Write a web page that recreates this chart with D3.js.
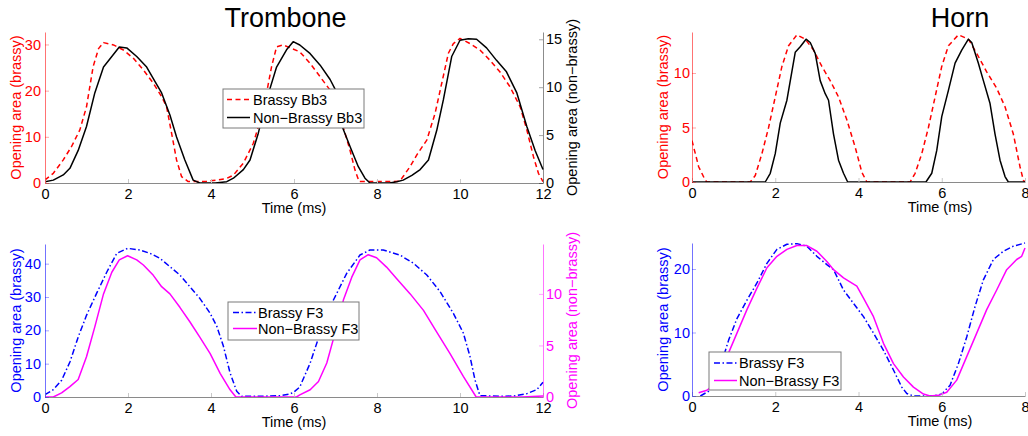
<!DOCTYPE html>
<html><head><meta charset="utf-8">
<script src="https://cdn.jsdelivr.net/npm/d3@7"></script>
<style>
body{margin:0;background:#fff}
svg{display:block}
text{font-family:"Liberation Sans",Arial,Helvetica,sans-serif}
</style>
</head><body>
<svg id="c" width="1028" height="436"></svg>
<script>
// ---------- DATA ----------
// Trombone, Bb3
const tbBrassyT = [0,0.2,0.44,0.64,0.84,1.0,1.16,1.29,1.41,1.65,1.89,2.13,2.37,2.61,2.81,2.93,3.05,3.17,3.29,3.45,3.7,3.9,4.14,4.38,4.54,4.78,5.02,5.26,5.46,5.58,5.74,6.14,6.39,6.63,6.87,7.19,7.35,7.47,7.57,8.0,8.3,8.55,8.63,8.8,8.96,9.2,9.4,9.56,9.72,9.84,10.0,10.24,10.48,10.72,10.96,11.2,11.45,11.61,11.77,11.89,12.0];
const tbBrassyV = [0.65,2.1,5.0,7.9,11.5,16.5,25.2,29.1,30.4,29.9,28.8,27.0,24.5,21.6,18.7,16.5,10.8,5.0,1.4,0.3,0.3,0.4,0.6,1.0,1.7,4.3,8.6,15.8,25.2,29.5,29.9,28.4,25.9,23.0,20.1,12.0,7.1,2.8,0.3,0.3,0.3,0.4,1.4,3.6,6.1,9.3,15.1,21.6,28.1,30.2,31.3,30.2,28.8,26.6,24.1,20.9,16.5,11.5,5.7,2.1,0.3];
const tbNonT = [0,0.2,0.44,0.6,0.8,1.0,1.2,1.41,1.61,1.79,1.97,2.21,2.45,2.61,2.81,3.01,3.17,3.37,3.57,3.73,4.1,4.38,4.54,4.78,4.94,5.14,5.34,5.58,5.82,5.98,6.14,6.39,6.63,6.87,6.99,7.17,7.35,7.55,7.71,7.83,8.3,8.48,8.63,8.84,9.04,9.24,9.44,9.6,9.8,10.0,10.2,10.4,10.64,10.88,11.12,11.37,11.61,11.81,12.0];
const tbNonV = [0.14,0.3,0.84,1.53,3.4,5.9,9.4,12.1,13.2,14.2,14.1,13.2,12.1,10.9,9.4,7.1,4.8,2.4,0.3,0,0,0.14,0.5,1.4,2.4,5.2,8.7,12.1,13.9,14.75,14.4,13.5,12.3,10.8,9.8,5.8,3.8,1.7,0.5,0,0,0.14,0.3,0.8,1.4,2.4,5.5,8.7,13.2,14.9,15.05,15.0,14.1,12.8,11.6,9.4,5.9,3.4,1.4];

// Trombone, F3
const tfBrassyT = [0,0.2,0.4,0.6,0.8,1.0,1.24,1.49,1.73,1.99,2.29,2.53,2.77,3.01,3.25,3.49,3.73,3.98,4.14,4.3,4.46,4.62,4.74,5.2,5.66,5.9,6.0,6.14,6.39,6.63,6.95,7.27,7.59,7.83,8.15,8.55,8.88,9.2,9.52,9.84,10.08,10.24,10.36,10.48,11.0,11.29,11.61,11.85,12.0];
const tfBrassyV = [0.7,2.2,5.0,10.5,18.0,24.5,31.0,37.5,43.1,44.6,44.1,43.1,41.6,39.1,36.6,33.1,29.6,25.1,21.2,15.2,7.2,1.7,0.2,0.2,0.4,0.9,1.5,3.0,10.2,19.2,29.1,37.1,42.6,44.1,44.1,42.6,40.1,36.6,31.6,25.1,19.2,12.2,5.2,0.4,0.2,0.3,1.0,2.2,4.4];
const tfNonT = [0,0.2,0.4,0.6,0.8,1.0,1.2,1.41,1.61,1.79,1.99,2.21,2.37,2.61,2.81,3.01,3.25,3.49,3.73,3.98,4.22,4.46,4.6,5.5,6.06,6.14,6.39,6.59,6.79,7.03,7.19,7.39,7.59,7.79,7.99,8.23,8.47,8.8,9.12,9.44,9.76,10.08,10.39,11.5,12.0];
const tfNonV = [0,0,0.4,1.0,1.7,3.9,6.8,10.0,12.1,13.3,13.7,13.3,12.8,11.8,10.7,10.0,8.7,7.3,5.8,4.2,2.3,0.7,0,0,0,0.2,0.7,1.5,3.3,6.8,9.4,11.6,13.3,13.8,13.5,12.6,11.5,10.0,8.4,6.3,4.2,2.0,0,0,0.1];

// Horn, Bb3
const hbBrassyT = [0,0.16,0.32,0.36,1.4,1.52,1.68,1.84,2.0,2.16,2.32,2.52,2.72,2.92,3.12,3.32,3.52,3.72,3.92,4.08,4.2,5.24,5.36,5.52,5.68,5.84,6.0,6.16,6.4,6.64,6.84,7.08,7.32,7.52,7.72,7.88,7.96,8.0];
const hbBrassyV = [3.8,1.4,0.15,0,0,0.6,2.6,5.0,7.8,10.6,12.5,13.5,13.1,12.1,10.6,9.3,7.8,5.7,3.2,0.9,0,0,0.8,2.6,5.0,7.8,10.6,12.5,13.5,13.1,11.8,10.1,8.6,6.9,4.4,1.4,0.15,0];
const hbNonT = [0,1.76,1.88,2.0,2.12,2.28,2.48,2.6,2.74,2.84,2.96,3.08,3.2,3.28,3.4,3.52,3.64,3.74,5.62,5.76,5.88,6.0,6.16,6.32,6.48,6.64,6.72,6.88,7.0,7.16,7.28,7.4,7.52,7.6,8.0];
const hbNonV = [0,0,0.8,2.6,5.4,7.5,11.9,12.4,13.1,12.8,11.8,9.3,8.1,7.5,4.4,2.0,0.8,0,0,0.8,2.9,6.0,8.4,10.9,12.1,13.1,12.8,10.9,9.3,7.2,4.4,2.0,0.5,0,0];

// Horn, F3
const hfBrassyT = [0.2,0.44,0.68,0.88,1.08,1.32,1.56,1.8,2.04,2.28,2.52,2.76,3.0,3.24,3.4,3.64,3.88,4.12,4.36,4.6,4.84,5.04,5.16,5.32,5.8,6.0,6.2,6.4,6.6,6.8,7.0,7.24,7.48,7.72,8.0];
const hfBrassyV = [0,0.9,4.6,8.8,12.2,15.1,17.8,20.9,23.1,23.9,24.0,23.6,22.0,20.7,19.9,16.7,14.6,12.5,9.9,7.2,4.1,1.4,0.4,0,0,0.3,1.7,5.1,9.3,14.1,18.3,21.5,22.8,23.6,24.1];
const hfNonT = [0.16,0.36,0.6,0.84,1.08,1.32,1.56,1.8,2.04,2.28,2.52,2.76,3.0,3.24,3.4,3.64,3.96,4.12,4.36,4.6,4.84,5.08,5.32,5.56,5.72,5.92,6.12,6.36,6.6,6.84,7.08,7.32,7.56,7.8,7.92,8.0];
const hfNonV = [0.5,0.9,2.2,6.2,9.9,13.6,17.0,20.2,22.0,23.1,23.7,23.7,22.8,21.2,19.9,18.6,17.3,15.4,12.5,8.3,5.1,3.0,1.4,0.3,0,0.1,0.6,2.5,6.2,9.9,13.6,16.7,19.9,21.5,22.0,23.3];

// ticks & labels
const tbXTicks = [0,2,4,6,8,10,12];
const hnXTicks = [0,2,4,6,8];
const tbTopLeftTicks = [0,10,20,30];
const tbTopRightTicks = [0,5,10,15];
const tbBotLeftTicks = [0,10,20,30,40];
const tbBotRightTicks = [0,5,10];
const hnTopTicks = [0,5,10];
const hnBotTicks = [0,10,20];
const titles = ["Trombone","Horn"];
const xLabel = "Time (ms)";
const yLabelBrassy = "Opening area (brassy)";
const yLabelNon = "Opening area (non\u2212brassy)";
const legendTop = ["Brassy Bb3","Non\u2212Brassy Bb3"];
const legendBot = ["Brassy F3","Non\u2212Brassy F3"];

// ---------- DRAW ----------
const svg = d3.select("#c");
const FS = 14.5;
const AXIS_GRAY = "#8a8a8a";

const zip = (T,V) => T.map((t,i)=>[t,V[i]]);

let clipId = 0;
function panel(cfg){
  const g = svg.append("g");
  const x = d3.scaleLinear().domain(cfg.xDomain).range([cfg.x0,cfg.x1]);
  const yL = d3.scaleLinear().domain(cfg.yLDomain).range([cfg.yb,cfg.yt]);
  const yR = cfg.yRDomain ? d3.scaleLinear().domain(cfg.yRDomain).range([cfg.yb,cfg.yt]) : null;

  const id = "clip"+(clipId++);
  svg.append("clipPath").attr("id",id).append("rect")
    .attr("x",cfg.x0).attr("y",cfg.yt-2).attr("width",cfg.x1-cfg.x0+1).attr("height",cfg.yb-cfg.yt+3);

  // series
  const plot = g.append("g").attr("clip-path",`url(#${id})`);
  cfg.series.forEach(s=>{
    const ys = s.axis==="R" ? yR : yL;
    const line = d3.line().x(d=>x(d[0])).y(d=>ys(d[1]));
    plot.append("path").datum(zip(s.t,s.v))
      .attr("d",line).attr("fill","none")
      .attr("stroke",s.color).attr("stroke-width",1.5)
      .attr("stroke-dasharray",s.dash||null)
      .attr("stroke-linejoin","round");
  });

  // x axis
  const xa = g.append("g").attr("transform",`translate(0,${cfg.yb})`)
    .call(d3.axisBottom(x).tickValues(cfg.xTicks).tickFormat(d3.format("d"))
      .tickSizeInner(-4).tickSizeOuter(0).tickPadding(6));
  xa.select(".domain").attr("stroke",AXIS_GRAY);
  xa.selectAll(".tick line").attr("stroke","#c8c8c8");
  xa.selectAll("text").attr("font-size",FS).attr("fill","#000")
    .attr("font-family",'"Liberation Sans",Arial,sans-serif');

  // left y axis
  const ya = g.append("g").attr("transform",`translate(${cfg.x0},0)`)
    .call(d3.axisLeft(yL).tickValues(cfg.yLTicks).tickFormat(d3.format("d"))
      .tickSizeInner(-4).tickSizeOuter(0).tickPadding(cfg.padL||4));
  ya.select(".domain").attr("stroke",cfg.cL).attr("stroke-opacity",0.55);
  ya.selectAll(".tick line").attr("stroke",cfg.cL).attr("stroke-opacity",0.35);
  ya.selectAll("text").attr("font-size",FS).attr("fill",cfg.cL)
    .attr("font-family",'"Liberation Sans",Arial,sans-serif');

  if(yR){
    const yb = g.append("g").attr("transform",`translate(${cfg.x1},0)`)
      .call(d3.axisRight(yR).tickValues(cfg.yRTicks).tickFormat(d3.format("d"))
        .tickSizeInner(-4).tickSizeOuter(0).tickPadding(3));
    yb.select(".domain").attr("stroke",cfg.cR).attr("stroke-opacity",cfg.cR==="#000"?0.45:0.55);
    yb.selectAll(".tick line").attr("stroke",cfg.cR).attr("stroke-opacity",0.35);
    yb.selectAll("text").attr("font-size",FS).attr("fill",cfg.cR)
      .attr("font-family",'"Liberation Sans",Arial,sans-serif');
    g.append("text").attr("transform",`translate(${cfg.yRLabelX},${(cfg.yt+cfg.yb)/2}) rotate(-90)`)
      .attr("text-anchor","middle").attr("dy","0.35em").attr("font-size",FS)
      .attr("fill",cfg.cR).text(yLabelNon);
  }

  // axis labels
  g.append("text").attr("x",cfg.xLabelX).attr("y",cfg.yb+30)
    .attr("text-anchor","middle").attr("font-size",FS).attr("fill","#000").text(xLabel);
  g.append("text").attr("transform",`translate(${cfg.yLLabelX},${(cfg.yt+cfg.yb)/2}) rotate(-90)`)
    .attr("text-anchor","middle").attr("dy","0.35em").attr("font-size",FS)
    .attr("fill",cfg.cL).text(yLabelBrassy);

  // legend
  if(cfg.legend){
    const L = cfg.legend;
    const lg = g.append("g");
    lg.append("rect").attr("x",L.x).attr("y",L.y).attr("width",L.w).attr("height",L.h)
      .attr("fill","#fff").attr("stroke","#7a7a7a").attr("stroke-width",1);
    L.items.forEach((it,i)=>{
      const yy = L.y + L.rowY[i];
      lg.append("line").attr("x1",L.x+L.lx0).attr("x2",L.x+L.lx1).attr("y1",yy).attr("y2",yy)
        .attr("stroke",it.color).attr("stroke-width",1.5).attr("stroke-dasharray",it.dash||null);
      lg.append("text").attr("x",L.x+L.tx).attr("y",yy).attr("dy","0.36em")
        .attr("font-size",FS).attr("fill","#000").text(it.label);
    });
  }
}

const RED="#ff0000", BLUE="#0000ff", MAG="#ff00ff", BLACK="#000";
const DASH="5,3.5", DASHDOT="6,2.5,1.5,2.5";

// Trombone top
panel({
  x0:45,x1:543,yt:32,yb:183,xDomain:[0,12],xTicks:tbXTicks,
  yLDomain:[0,32.7],yLTicks:tbTopLeftTicks,cL:RED,
  yRDomain:[0,15.76],yRTicks:tbTopRightTicks,cR:BLACK,
  yLLabelX:16,yRLabelX:572,xLabelX:294,
  series:[
    {t:tbBrassyT,v:tbBrassyV,color:RED,dash:DASH,axis:"L"},
    {t:tbNonT,v:tbNonV,color:BLACK,axis:"R"}
  ],
  legend:{x:223,y:89,w:141,h:39,lx0:4,lx1:27,tx:30,rowY:[10.5,28.5],
    items:[{label:legendTop[0],color:RED,dash:DASH},{label:legendTop[1],color:BLACK}]}
});

// Trombone bottom
panel({
  x0:45,x1:543,yt:244,yb:397,xDomain:[0,12],xTicks:tbXTicks,
  yLDomain:[0,45.9],yLTicks:tbBotLeftTicks,cL:BLUE,
  yRDomain:[0,14.84],yRTicks:tbBotRightTicks,cR:MAG,
  yLLabelX:16,yRLabelX:572,xLabelX:294,
  series:[
    {t:tfBrassyT,v:tfBrassyV,color:BLUE,dash:DASHDOT,axis:"L"},
    {t:tfNonT,v:tfNonV,color:MAG,axis:"R"}
  ],
  legend:{x:228,y:302,w:131,h:38,lx0:5,lx1:29,tx:30,rowY:[10.5,26.5],
    items:[{label:legendBot[0],color:BLUE,dash:DASHDOT},{label:legendBot[1],color:MAG}]}
});

// Horn top
panel({
  x0:692,x1:1025,yt:32,yb:182,xDomain:[0,8],xTicks:hnXTicks,
  yLDomain:[0,13.76],yLTicks:hnTopTicks,cL:RED,padL:2,
  yLLabelX:663,xLabelX:940,
  series:[
    {t:hbBrassyT,v:hbBrassyV,color:RED,dash:DASH,axis:"L"},
    {t:hbNonT,v:hbNonV,color:BLACK,axis:"L"}
  ]
});

// Horn bottom
panel({
  x0:692,x1:1025,yt:243,yb:396,xDomain:[0,8],xTicks:hnXTicks,
  yLDomain:[0,24.1],yLTicks:hnBotTicks,cL:BLUE,padL:2,
  yLLabelX:663,xLabelX:940,
  series:[
    {t:hfBrassyT,v:hfBrassyV,color:BLUE,dash:DASHDOT,axis:"L"},
    {t:hfNonT,v:hfNonV,color:MAG,axis:"L"}
  ],
  legend:{x:709,y:352,w:132,h:38,lx0:5,lx1:28,tx:30,rowY:[11,28.5],
    items:[{label:legendBot[0],color:BLUE,dash:DASHDOT},{label:legendBot[1],color:MAG}]}
});

// titles
svg.append("text").attr("x",285.5).attr("y",27).attr("text-anchor","middle")
  .attr("font-size",27).attr("fill","#000").text(titles[0]);
svg.append("text").attr("x",960).attr("y",27).attr("text-anchor","middle")
  .attr("font-size",27).attr("fill","#000").text(titles[1]);
</script>
</body></html>
